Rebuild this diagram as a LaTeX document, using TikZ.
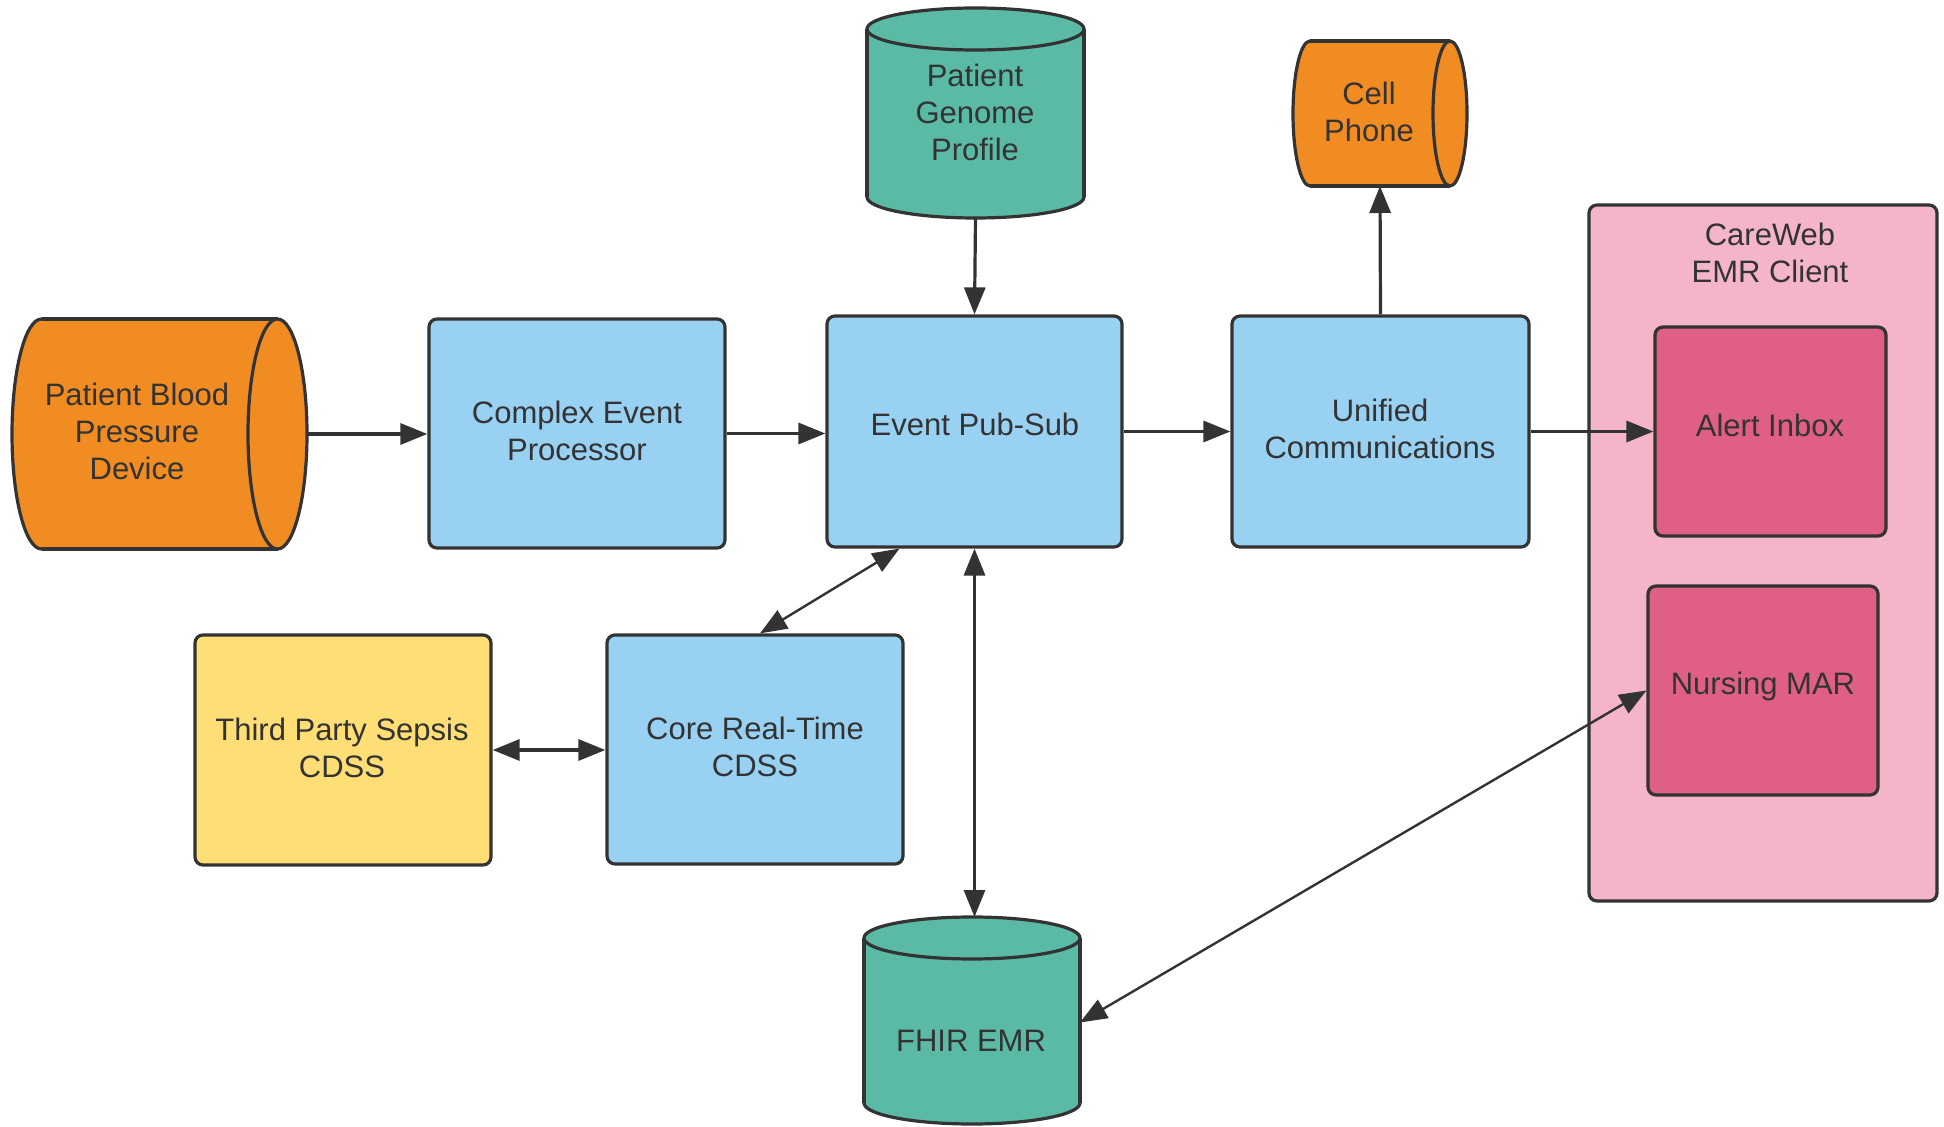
\documentclass[tikz,border=0pt]{standalone}
\usepackage{fontspec}
\setmainfont{Liberation Sans}
\usetikzlibrary{arrows.meta,calc}
\definecolor{ink}{HTML}{333333}
\definecolor{cblue}{HTML}{99D1F3}
\definecolor{corange}{HTML}{F08C21}
\definecolor{cteal}{HTML}{5BBAA6}
\definecolor{cyellow}{HTML}{FFDE76}
\definecolor{cpink}{HTML}{F5B5C9}
\definecolor{crose}{HTML}{DF5F85}
\tikzset{
  box/.style={draw=ink, line width=1.6pt, rounded corners=4pt, inner sep=0pt},
  anchorbox/.style={inner sep=0pt, outer sep=0pt},
  cylline/.style={draw=ink, line width=1.6pt},
  txt/.style={text=ink, align=center, inner sep=0pt, font=\fontsize{15.5}{18.5}\selectfont},
  conn/.style={draw=ink, line width=1.6pt, -{Triangle[length=13.5pt,width=10.5pt]}},
  conn2/.style={draw=ink, line width=1.6pt, {Triangle[length=13.5pt,width=10.5pt]}-{Triangle[length=13.5pt,width=10.5pt]}},
  thinconn2/.style={draw=ink, line width=1.2pt, {Triangle[length=13.5pt,width=10.5pt]}-{Triangle[length=13.5pt,width=10.5pt]}},
}
\begin{document}
\begin{tikzpicture}[x=0.5pt,y=-0.5pt]
\useasboundingbox (0,0) rectangle (1944,1127);

% ---------- Patient Blood Pressure Device (horizontal cylinder)
\filldraw[cylline, fill=corange] (41.5,434) ellipse [x radius=29.5, y radius=115];
\fill[corange] (41.5,319) rectangle (277.5,549);
\draw[cylline] (41.5,319) -- (277.5,319) (41.5,549) -- (277.5,549);
\filldraw[cylline, fill=corange] (277.5,434) ellipse [x radius=29.5, y radius=115];
\node[anchorbox, minimum width=147.5pt, minimum height=115pt] (bp) at (159.5,434) {};
\node[txt] (bpT) at (137,431) {Patient Blood\\Pressure\\Device};

% ---------- Patient Genome Profile (vertical cylinder)
\filldraw[cylline, fill=cteal] (975.5,197) ellipse [x radius=108.5, y radius=21];
\fill[cteal] (867,29) rectangle (1084,197);
\draw[cylline] (867,29) -- (867,197) (1084,29) -- (1084,197);
\filldraw[cylline, fill=cteal] (975.5,29) ellipse [x radius=108.5, y radius=21];
\node[anchorbox, minimum width=108.5pt, minimum height=105pt] (genome) at (975.5,113) {};
\node[txt] (genomeT) at (975,112) {Patient\\Genome\\Profile};

% ---------- Cell Phone (horizontal cylinder)
\filldraw[cylline, fill=corange] (1310,113.5) ellipse [x radius=17, y radius=72.5];
\fill[corange] (1310,41) rectangle (1450,186);
\draw[cylline] (1310,41) -- (1450,41) (1310,186) -- (1450,186);
\filldraw[cylline, fill=corange] (1450,113.5) ellipse [x radius=17, y radius=72.5];
\node[anchorbox, minimum width=87pt, minimum height=72.5pt] (cell) at (1380,113.5) {};
\node[txt] (cellT) at (1369,112) {Cell\\Phone};

% ---------- FHIR EMR (vertical cylinder)
\filldraw[cylline, fill=cteal] (972,1103) ellipse [x radius=108, y radius=21];
\fill[cteal] (864,938) rectangle (1080,1103);
\draw[cylline] (864,938) -- (864,1103) (1080,938) -- (1080,1103);
\filldraw[cylline, fill=cteal] (972,938) ellipse [x radius=108, y radius=21];
\node[anchorbox, minimum width=108pt, minimum height=103.5pt] (fhir) at (972,1020.5) {};
\node[txt] (fhirT) at (971,1041) {FHIR EMR};

% ---------- Boxes
\node[box, fill=cblue, minimum width=148pt, minimum height=114.5pt] (cep) at (577,433.5) {};
\node[txt] (cepT) at (577,431) {Complex Event\\Processor};

\node[box, fill=cblue, minimum width=147.5pt, minimum height=115.5pt] (pubsub) at (974.5,431.5) {};
\node[txt] (pubsubT) at (975,424) {Event Pub-Sub};

\node[box, fill=cblue, minimum width=148.5pt, minimum height=115.5pt] (uc) at (1380.5,431.5) {};
\node[txt] (ucT) at (1380,429) {Unified\\Communications};

\node[box, fill=cpink, minimum width=174pt, minimum height=348pt] (careweb) at (1763,553) {};
\node[txt] (carewebT) at (1770,253) {CareWeb\\EMR Client};

\node[box, fill=crose, minimum width=115.5pt, minimum height=104.5pt] (alert) at (1770.5,431.5) {};
\node[txt] (alertT) at (1770,425) {Alert Inbox};

\node[box, fill=crose, minimum width=115pt, minimum height=104.5pt] (mar) at (1763,690.5) {};
\node[txt] (marT) at (1763,686) {Nursing MAR};

\node[box, fill=cyellow, minimum width=148pt, minimum height=115pt] (third) at (343,750) {};
\node[txt] (thirdT) at (342,748) {Third Party Sepsis\\CDSS};

\node[box, fill=cblue, minimum width=148pt, minimum height=114.5pt] (core) at (755,749.5) {};
\node[txt] (coreT) at (755,747) {Core Real-Time\\CDSS};

% ---------- Connectors
\draw[conn] (bp.east) -- (bp.east -| cep.west);
\draw[conn] (cep.east) -- (cep.east -| pubsub.west);
\draw[conn] (genome.south) -- (pubsub.north);
\draw[conn] (pubsub.east) -- (uc.west);
\draw[conn] (uc.north) -- (cell.south);
\draw[conn] (uc.east) -- (alert.west);
\draw[conn2] (third.east) -- (third.east -| core.west);
\draw[conn2] (pubsub.south) -- (pubsub.south |- fhir.north);
\draw[thinconn2] ($(core.north)+(5,0)$) -- ($(pubsub.south)+(-75,0)$);
\draw[thinconn2] ($(fhir.east)+(0,2)$) -- (mar.west);
\end{tikzpicture}
\end{document}
